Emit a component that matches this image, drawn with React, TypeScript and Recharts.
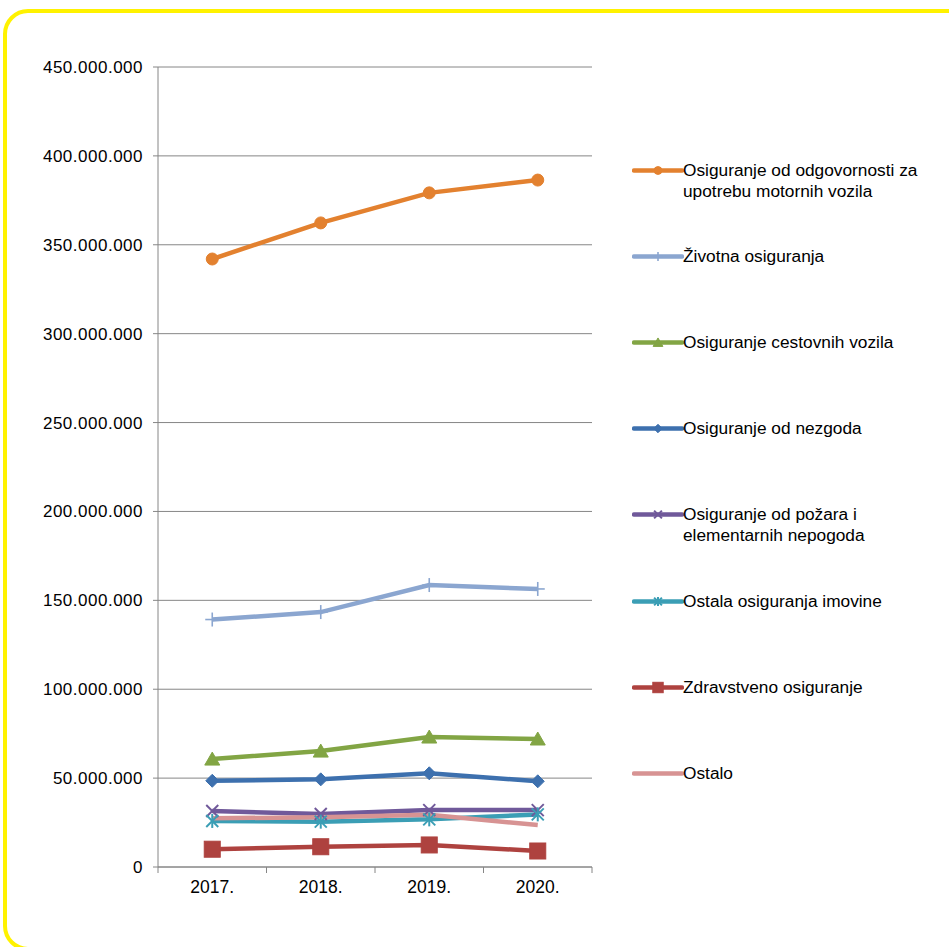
import React from 'react';
import { LineChart, Line, XAxis, YAxis, CartesianGrid, Legend } from 'recharts';

const years = ['2017.', '2018.', '2019.', '2020.'];
const odgovornost = [342.0e6, 362.3e6, 379.2e6, 386.4e6];
const zivotna = [139.2e6, 143.4e6, 158.6e6, 156.4e6];
const cestovna = [60.7e6, 65.2e6, 73.1e6, 72.0e6];
const nezgode = [48.5e6, 49.3e6, 52.7e6, 48.2e6];
const pozar = [31.5e6, 29.8e6, 32.0e6, 32.0e6];
const imovina = [25.9e6, 25.5e6, 26.8e6, 29.6e6];
const zdravstveno = [10.0e6, 11.4e6, 12.4e6, 9.0e6];
const ostalo = [27.4e6, 28.0e6, 29.4e6, 23.6e6];
const yTicks = [0, 50e6, 100e6, 150e6, 200e6, 250e6, 300e6, 350e6, 400e6, 450e6];

const data = years.map((y, i) => ({
  year: y,
  odgovornost: odgovornost[i],
  zivotna: zivotna[i],
  cestovna: cestovna[i],
  nezgode: nezgode[i],
  pozar: pozar[i],
  imovina: imovina[i],
  zdravstveno: zdravstveno[i],
  ostalo: ostalo[i],
}));

const series = [
  { key: 'odgovornost', name: ['Osiguranje od odgovornosti za', 'upotrebu motornih vozila'], color: '#E3812F', shape: 'circle' },
  { key: 'zivotna', name: ['Životna osiguranja'], color: '#8BA6D0', shape: 'plus' },
  { key: 'cestovna', name: ['Osiguranje cestovnih vozila'], color: '#82A544', shape: 'triangle' },
  { key: 'nezgode', name: ['Osiguranje od nezgoda'], color: '#3D70AE', shape: 'diamond' },
  { key: 'pozar', name: ['Osiguranje od požara i', 'elementarnih nepogoda'], color: '#70599A', shape: 'x' },
  { key: 'imovina', name: ['Ostala osiguranja imovine'], color: '#3B9EB5', shape: 'star' },
  { key: 'zdravstveno', name: ['Zdravstveno osiguranje'], color: '#AE423F', shape: 'square' },
  { key: 'ostalo', name: ['Ostalo'], color: '#D79393', shape: 'none' },
];

const W = 949;
const H = 947;
const PLOT_LEFT = 158;
const PLOT_RIGHT = 592;
const PLOT_TOP = 67;
const PLOT_BOTTOM = 867;
const Y_AXIS_W = 150;
const X_AXIS_H = 30;
const GRAY = '#868686';
const FONT = '"Liberation Sans", Arial, sans-serif';

const fmt = (n: number) => (n === 0 ? '0' : Math.round(n).toString().replace(/\B(?=(\d{3})+(?!\d))/g, '.'));

function marker(shape: string, color: string, cx: number, cy: number, s: number, key?: any) {
  switch (shape) {
    case 'circle':
      return <circle key={key} cx={cx} cy={cy} r={6 * s} fill={color} stroke={color} />;
    case 'plus':
      return (
        <g key={key} stroke={color} strokeWidth={1.6}>
          <line x1={cx - 7 * s} y1={cy} x2={cx + 7 * s} y2={cy} />
          <line x1={cx} y1={cy - 7 * s} x2={cx} y2={cy + 7 * s} />
        </g>
      );
    case 'triangle':
      return (
        <polygon
          key={key}
          points={`${cx},${cy - 7 * s} ${cx + 7.5 * s},${cy + 6 * s} ${cx - 7.5 * s},${cy + 6 * s}`}
          fill={color}
          stroke={color}
        />
      );
    case 'diamond':
      return (
        <polygon
          key={key}
          points={`${cx},${cy - 6.5 * s} ${cx + 6.5 * s},${cy} ${cx},${cy + 6.5 * s} ${cx - 6.5 * s},${cy}`}
          fill={color}
          stroke={color}
        />
      );
    case 'x':
      return (
        <g key={key} stroke={color} strokeWidth={2}>
          <line x1={cx - 6 * s} y1={cy - 6 * s} x2={cx + 6 * s} y2={cy + 6 * s} />
          <line x1={cx - 6 * s} y1={cy + 6 * s} x2={cx + 6 * s} y2={cy - 6 * s} />
        </g>
      );
    case 'star':
      return (
        <g key={key} stroke={color} strokeWidth={2}>
          <line x1={cx - 6 * s} y1={cy - 6 * s} x2={cx + 6 * s} y2={cy + 6 * s} />
          <line x1={cx - 6 * s} y1={cy + 6 * s} x2={cx + 6 * s} y2={cy - 6 * s} />
          <line x1={cx} y1={cy - 7 * s} x2={cx} y2={cy + 7 * s} />
        </g>
      );
    case 'square':
      return <rect key={key} x={cx - 8 * s} y={cy - 8 * s} width={16 * s} height={16 * s} fill={color} stroke={color} />;
    default:
      return <g key={key} />;
  }
}

const makeDot = (shape: string, color: string) => (props: any) =>
  marker(shape, color, props.cx, props.cy, 1, `${shape}-${props.index}`);

const XTick = (props: any) => {
  const { x, y, payload, index } = props;
  const bw = (PLOT_RIGHT - PLOT_LEFT) / years.length;
  return (
    <g>
      <line x1={x - bw / 2} y1={y} x2={x - bw / 2} y2={y + 6} stroke={GRAY} />
      {index === years.length - 1 && <line x1={x + bw / 2} y1={y} x2={x + bw / 2} y2={y + 6} stroke={GRAY} />}
      <text x={x} y={y + 26} textAnchor="middle" fontSize={17.5} fill="#000" fontFamily={FONT}>
        {payload.value}
      </text>
    </g>
  );
};

const ITEM_H = 86.2;

const renderLegend = () => (
  <div style={{ position: 'relative', width: 300, height: ITEM_H * series.length, fontFamily: FONT }}>
    {series.map((s, i) => (
      <div key={s.key} style={{ position: 'absolute', left: 0, top: i * ITEM_H, width: 300 }}>
        <svg width={52} height={21} style={{ position: 'absolute', left: 0, top: 0 }}>
          <line x1={2} y1={10.5} x2={50} y2={10.5} stroke={s.color} strokeWidth={4.5} strokeLinecap="round" />
          {marker(s.shape, s.color, 26, 10.5, 0.65)}
        </svg>
        <div style={{ position: 'absolute', left: 51, top: 0, fontSize: 17.3, lineHeight: '21px', color: '#000', whiteSpace: 'nowrap' }}>
          {s.name.map((l, j) => (
            <div key={j}>{l}</div>
          ))}
        </div>
      </div>
    ))}
  </div>
);

export default function App() {
  return (
    <div style={{ position: 'fixed', left: 0, top: 0, width: W, height: H, overflow: 'hidden', background: '#fff' }}>
      <div
        style={{
          position: 'absolute',
          left: 3,
          top: 9,
          width: 975,
          height: 942,
          border: '4px solid #FFF200',
          borderRadius: 25,
          boxSizing: 'border-box',
        }}
      />
      <div style={{ position: 'absolute', left: 0, top: 0 }}>
        <LineChart
          width={W}
          height={H}
          data={data}
          margin={{
            top: PLOT_TOP,
            right: W - PLOT_RIGHT,
            bottom: H - PLOT_BOTTOM - X_AXIS_H,
            left: PLOT_LEFT - Y_AXIS_W,
          }}
          style={{ fontFamily: FONT }}
        >
          <CartesianGrid vertical={false} stroke={GRAY} strokeWidth={1} />
          <XAxis
            dataKey="year"
            scale="band"
            height={X_AXIS_H}
            axisLine={{ stroke: GRAY }}
            tickLine={false}
            tickSize={0}
            tickMargin={0}
            tick={<XTick />}
            interval={0}
          />
          <YAxis
            width={Y_AXIS_W}
            domain={[0, 450e6]}
            ticks={yTicks}
            tickFormatter={fmt}
            axisLine={{ stroke: GRAY }}
            tickLine={{ stroke: GRAY }}
            tickSize={5}
            tickMargin={10}
            tick={{ fontSize: 17, fill: '#000', fontFamily: FONT, letterSpacing: 0.5 }}
            interval={0}
          />
          <Legend
            layout="vertical"
            align="center"
            verticalAlign="middle"
            content={renderLegend}
            wrapperStyle={{ position: 'absolute', left: 632, top: 159.5, width: 300, height: ITEM_H * series.length }}
          />
          {series.map((s) => (
            <Line
              key={s.key}
              type="linear"
              dataKey={s.key}
              name={s.name.join(' ')}
              stroke={s.color}
              strokeWidth={4.5}
              dot={s.shape === 'none' ? false : makeDot(s.shape, s.color)}
              activeDot={false}
              isAnimationActive={false}
            />
          ))}
        </LineChart>
      </div>
    </div>
  );
}
